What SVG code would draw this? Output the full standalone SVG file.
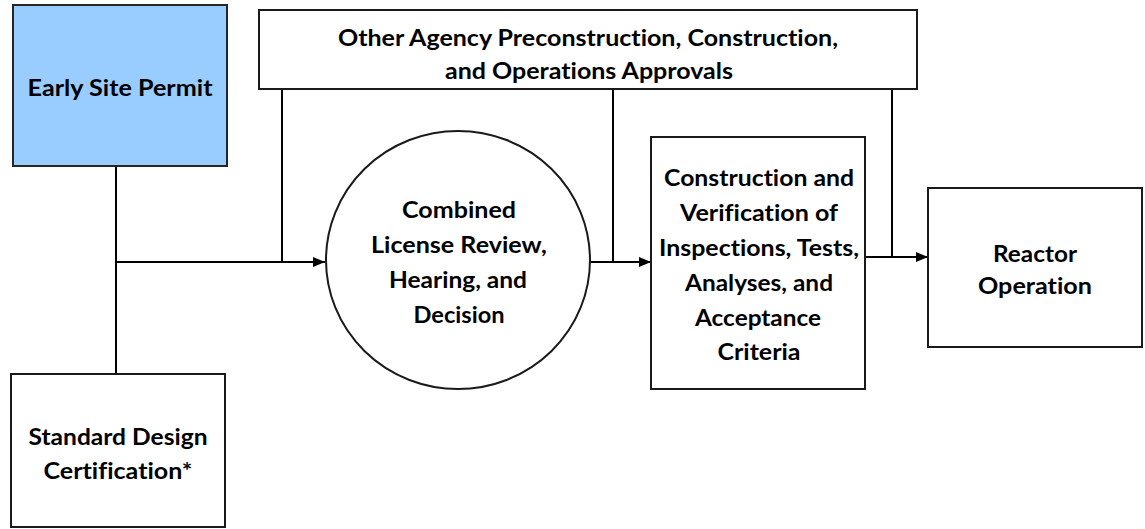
<svg xmlns="http://www.w3.org/2000/svg" width="1145" height="529" viewBox="0 0 1145 529">
<defs>
<style>
.box{fill:#ffffff;stroke:#1a1a1a;stroke-width:2}
.blue{fill:#99ccff;stroke:#262626;stroke-width:2}
.lbl{font-family:Lato,"Liberation Sans",sans-serif;font-weight:bold;font-size:23px;fill:#000000;text-anchor:middle;font-variant-ligatures:none;font-feature-settings:"liga" 0,"dlig" 0}
.conn{fill:none;stroke:#000000;stroke-width:2}
</style>
<marker id="arr" markerUnits="userSpaceOnUse" markerWidth="14" markerHeight="12" refX="12" refY="6" orient="auto">
<path d="M0,1 L12,6 L0,11 z" fill="#000000"/>
</marker>
</defs>
<rect width="1145" height="529" fill="#ffffff"/>
<g id="connectors">
<line class="conn" x1="116" y1="166" x2="116" y2="374"/>
<line class="conn" x1="116" y1="262" x2="325" y2="262" marker-end="url(#arr)"/>
<line class="conn" x1="282" y1="89" x2="282" y2="262"/>
<line class="conn" x1="590" y1="262" x2="651" y2="262" marker-end="url(#arr)"/>
<line class="conn" x1="613" y1="89" x2="613" y2="262"/>
<line class="conn" x1="865" y1="257" x2="928" y2="257" marker-end="url(#arr)"/>
<line class="conn" x1="892" y1="89" x2="892" y2="257"/>
</g>
<g id="early-site-permit">
<rect class="blue" x="13" y="5" width="214" height="161"/>
<text class="lbl" x="120" y="96" textLength="185" lengthAdjust="spacingAndGlyphs">Early Site Permit</text>
</g>
<g id="other-agency">
<rect class="box" x="259" y="10" width="658" height="79"/>
<text class="lbl" x="588" y="46" textLength="500" lengthAdjust="spacingAndGlyphs">Other Agency Preconstruction, Construction,</text>
<text class="lbl" x="589" y="79" textLength="288" lengthAdjust="spacingAndGlyphs">and Operations Approvals</text>
</g>
<g id="combined-license">
<ellipse class="box" cx="458" cy="260" rx="132" ry="129"/>
<text class="lbl" x="459" y="218" textLength="114" lengthAdjust="spacingAndGlyphs">Combined</text>
<text class="lbl" x="459" y="253" textLength="176" lengthAdjust="spacingAndGlyphs">License Review,</text>
<text class="lbl" x="458" y="288" textLength="138" lengthAdjust="spacingAndGlyphs">Hearing, and</text>
<text class="lbl" x="459" y="323" textLength="91" lengthAdjust="spacingAndGlyphs">Decision</text>
</g>
<g id="construction-itaac">
<rect class="box" x="651" y="137" width="214" height="252"/>
<text class="lbl" x="759" y="186" textLength="190" lengthAdjust="spacingAndGlyphs">Construction and</text>
<text class="lbl" x="759" y="221" textLength="158" lengthAdjust="spacingAndGlyphs">Verification of</text>
<text class="lbl" x="759" y="256" textLength="200" lengthAdjust="spacingAndGlyphs">Inspections, Tests,</text>
<text class="lbl" x="759" y="291" textLength="148" lengthAdjust="spacingAndGlyphs">Analyses, and</text>
<text class="lbl" x="758" y="326" textLength="126" lengthAdjust="spacingAndGlyphs">Acceptance</text>
<text class="lbl" x="759" y="360" textLength="83" lengthAdjust="spacingAndGlyphs">Criteria</text>
</g>
<g id="reactor-operation">
<rect class="box" x="928" y="188" width="214" height="159"/>
<text class="lbl" x="1035" y="262" textLength="84" lengthAdjust="spacingAndGlyphs">Reactor</text>
<text class="lbl" x="1035" y="294" textLength="114" lengthAdjust="spacingAndGlyphs">Operation</text>
</g>
<g id="standard-design">
<rect class="box" x="11" y="374" width="214" height="153"/>
<text class="lbl" x="118" y="445" textLength="179" lengthAdjust="spacingAndGlyphs">Standard Design</text>
<text class="lbl" x="118" y="479" textLength="149" lengthAdjust="spacingAndGlyphs">Certification*</text>
</g>
</svg>
